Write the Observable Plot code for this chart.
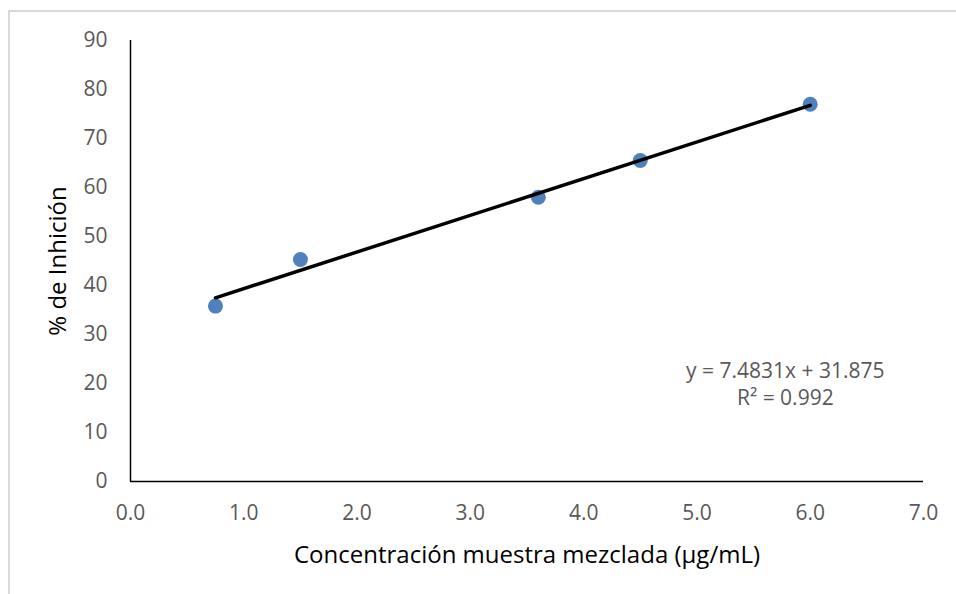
<!DOCTYPE html>
<html>
<head>
<meta charset="utf-8">
<script src="https://cdn.jsdelivr.net/npm/d3@7"></script>
<script src="https://cdn.jsdelivr.net/npm/@observablehq/plot@0.6"></script>
<style>
  html, body { margin: 0; padding: 0; background: #fff; }
  #wrap { position: relative; width: 956px; height: 594px; overflow: hidden; }
  #frame { position: absolute; left: 8px; top: 10px; width: 1000px; height: 700px;
           border: 2px solid #d9d9d9; box-sizing: border-box; }
  #chart { position: absolute; left: 0; top: 0; }
</style>
</head>
<body>
<div id="wrap"><div id="frame"></div><div id="chart"></div></div>
<script>
// Concentration of the mixed sample (µg/mL) and the measured % inhibition
const concentration = [0.75, 1.5, 3.6, 4.5, 6.0];
const inhibition = [35.8, 45.3, 58.0, 65.5, 77.0];

// Linear trendline reported on the chart
const trendSlope = 7.4831;
const trendIntercept = 31.875;
const trendR2 = 0.992;

// Axis ticks
const xTicks = [0, 1, 2, 3, 4, 5, 6, 7];
const yTicks = [0, 10, 20, 30, 40, 50, 60, 70, 80, 90];

const points = concentration.map((x, i) => ({x, y: inhibition[i]}));
const xExtent = d3.extent(concentration);
const trend = xExtent.map(x => ({x, y: trendSlope * x + trendIntercept}));
const eqLabel = [{x: 5.78, y: 22.6,
  text: `y = ${trendSlope}x + ${trendIntercept}\nR² = ${trendR2}`}];

const font = "'Open Sans', sans-serif";

const chart = Plot.plot({
  width: 956,
  height: 594,
  marginLeft: 130,
  marginRight: 33,
  marginTop: 40,
  marginBottom: 113,
  style: {fontFamily: font, color: "#595959", background: "transparent"},
  x: {domain: [0, 7]},
  y: {domain: [0, 90]},
  marks: [
    Plot.axisX({ticks: xTicks, tickFormat: d => d.toFixed(1), tickSize: 0, tickPadding: 24,
                fontSize: 21, label: null}),
    Plot.axisY({ticks: yTicks, tickSize: 0, tickPadding: 23, fontSize: 21, label: null}),
    Plot.ruleY([0], {x1: 0, x2: 7, stroke: "#000", strokeWidth: 1.5}),
    Plot.ruleX([0], {y1: 0, y2: 90, stroke: "#000", strokeWidth: 1.5}),
    Plot.dot(points, {x: "x", y: "y", r: 7.5, fill: "#4F81BD", stroke: "none"}),
    Plot.line(trend, {x: "x", y: "y", stroke: "#000", strokeWidth: 3.5}),
    Plot.text(eqLabel, {x: "x", y: "y", text: "text", textAnchor: "middle", lineAnchor: "top",
                        fontSize: 21, lineHeight: 1.3, fill: "#595959", dy: -12}),
    Plot.text(["Concentración muestra mezclada (µg/mL)"], {frameAnchor: "bottom", dy: 81,
                        fontSize: 24, fill: "#000"}),
    Plot.text(["% de Inhición"], {frameAnchor: "left", textAnchor: "middle", dx: -72, rotate: -90,
                        fontSize: 24, fill: "#000"})
  ]
});
document.getElementById("chart").appendChild(chart);
</script>
</body>
</html>
